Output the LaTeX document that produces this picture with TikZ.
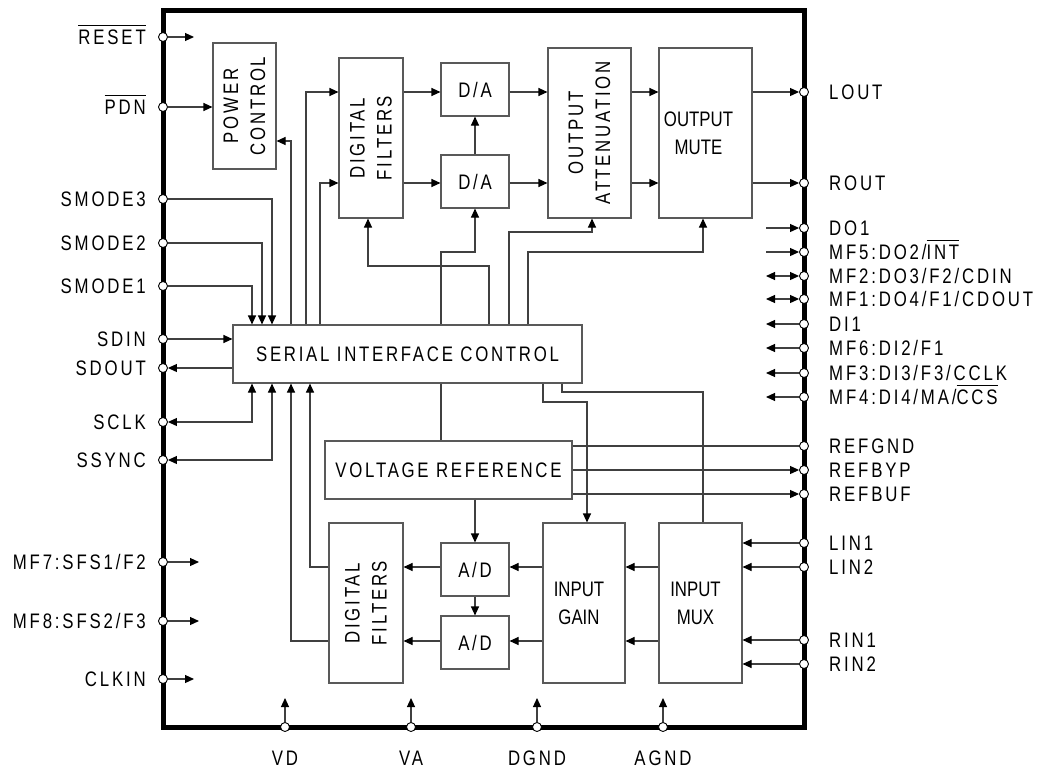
\documentclass[tikz,border=0pt]{standalone}
\usepackage{fontspec}
\usetikzlibrary{arrows.meta,calc}
\setmainfont{Liberation Sans}
\newfontfamily\pinf[FakeStretch=0.8,LetterSpace=13.5]{Liberation Sans}
\newfontfamily\blkf[FakeStretch=0.8,LetterSpace=13]{Liberation Sans}
\newfontfamily\narf[FakeStretch=0.8]{Liberation Sans}
\newcommand{\ovl}[1]{\leavevmode\vbox{\hrule height 0.9pt\kern 4pt\hbox{#1}}}
\colorlet{lncol}{black!75}
\colorlet{boxcol}{black!65}
\begin{document}
\begin{tikzpicture}[x=1pt,y=-1pt,
  ln/.style={draw=lncol,line width=1.1pt},
  arr/.style={ln,-{Triangle[length=9pt,width=8pt,black]}},
  dbl/.style={ln,{Triangle[length=9pt,width=8pt,black]}-{Triangle[length=9pt,width=8pt,black]}},
  blk/.style={draw=boxcol,line width=1.1pt,inner sep=0,minimum width=#1},
  pin/.style={circle,draw=black,fill=white,line width=0.9pt,minimum size=9pt,inner sep=0},
  lpin/.style={font=\pinf\fontsize{21}{24}\selectfont,inner sep=0,anchor=base east},
  rpin/.style={font=\pinf\fontsize{21}{24}\selectfont,inner sep=0,anchor=base west},
  bpin/.style={font=\pinf\fontsize{21}{24}\selectfont,inner sep=0,anchor=base},
  blab/.style={font=\blkf\fontsize{21}{27}\selectfont,inner sep=0,align=center},
  nlab/.style={font=\narf\fontsize{21}{28}\selectfont,inner sep=0,align=center}
]
\useasboundingbox (0,0) rectangle (1037,769);
% chip outline
\node[draw=black,line width=5pt,minimum width=641pt,minimum height=717pt,inner sep=0] (chip) at (483.5,368.5) {};

% blocks
\node[blk=63pt,minimum height=126pt] (pc) at (244.5,106) {};
\node[blk=64pt,minimum height=160pt] (df1) at (371,138) {};
\node[blk=68pt,minimum height=53pt] (da1) at (475,89.5) {};
\node[blk=68pt,minimum height=53pt] (da2) at (475,181.5) {};
\node[blk=83pt,minimum height=170pt] (oa) at (589.5,133) {};
\node[blk=93pt,minimum height=170pt] (om) at (705.5,133) {};
\node[blk=349pt,minimum height=58pt] (sic) at (407.5,354) {};
\node[blk=247pt,minimum height=58pt] (vr) at (448.5,470) {};
\node[blk=74pt,minimum height=160pt] (df2) at (366,603) {};
\node[blk=68pt,minimum height=53pt] (ad1) at (475,569.5) {};
\node[blk=68pt,minimum height=53pt] (ad2) at (475,642.5) {};
\node[blk=82pt,minimum height=160pt] (ig) at (584,603) {};
\node[blk=83pt,minimum height=160pt] (im) at (700.5,603) {};

% block texts
\node[blab,rotate=90] (tpc) at (pc.center) {POWER\\CONTROL};
\node[blab,rotate=90] (tdf1) at (df1.center) {DIGITAL\\FILTERS};
\node[blab] (tda1) at (da1.center) {D/A};
\node[blab] (tda2) at (da2.center) {D/A};
\node[blab,rotate=90] (toa) at (oa.center) {OUTPUT\\ATTENUATION};
\node[nlab] (tom) at ([xshift=-7pt]om.center) {OUTPUT\\MUTE};
\node[blab] (tsic) at (sic.center) {SERIAL INTERFACE CONTROL};
\node[blab] (tvr) at (vr.center) {VOLTAGE REFERENCE};
\node[blab,rotate=90] (tdf2) at (df2.center) {DIGITAL\\FILTERS};
\node[blab] (tad1) at (ad1.center) {A/D};
\node[blab] (tad2) at (ad2.center) {A/D};
\node[nlab] (tig) at ([xshift=-5pt]ig.center) {INPUT\\GAIN};
\node[nlab] (tim) at ([xshift=-5pt]im.center) {INPUT\\MUX};

% left pins
\foreach \n/\y/\t in {RESET/37/{\ovl{RESET}},PDN/107/{\ovl{PDN}},SMa/199/{SMODE3},SMb/243/{SMODE2},SMc/286/{SMODE1},SDIN/339/{SDIN},SDOUT/368/{SDOUT},SCLK/422/{SCLK},SSYNC/460/{SSYNC},MFs/562/{MF7:SFS1/F2},MFt/621/{MF8:SFS2/F3},CLKIN/679/{CLKIN}}{
  \node[pin] (p\n) at (163,\y) {};
  \node[lpin] (l\n) at (146,\y+7.5) {\t};
}
% right pins
\foreach \n/\y/\t in {LOUT/92/{LOUT},ROUT/183/{ROUT},DOa/228/{DO1},MFe/252/{MF5:DO2/\ovl{INT}},MFb/276/{MF2:DO3/F2/CDIN},MFa/299/{MF1:DO4/F1/CDOUT},DIa/324/{DI1},MFf/348/{MF6:DI2/F1},MFc/373/{MF3:DI3/F3/CCLK},MFd/397/{MF4:DI4/MA/\ovl{CCS}},REFGND/446/{REFGND},REFBYP/470/{REFBYP},REFBUF/494/{REFBUF},LINa/543/{LIN1},LINb/567/{LIN2},RINa/640/{RIN1},RINb/664/{RIN2}}{
  \node[pin] (p\n) at (804,\y) {};
  \node[rpin] (l\n) at (829,\y+7.5) {\t};
}
% bottom pins
\foreach \n/\x/\t in {VD/285/{VD},VA/411/{VA},DGND/537/{DGND},AGND/663/{AGND}}{
  \node[pin] (p\n) at (\x,727) {};
  \node[bpin] (l\n) at (\x,765) {\t};
  \coordinate (e\n) at (\x,698);
  \draw[arr] (p\n) -- (e\n);
}

% guide coordinates
\foreach \v in {252,262,272,291,306,310,320,368,441,475,489,509,528,543,562,587,592,703}{\coordinate (x\v) at (\v,0);}
\coordinate (r1) at (0,92);
\coordinate (r2) at (0,183);
\coordinate (r3) at (0,567);
\coordinate (r4) at (0,641);
\coordinate (y141) at (0,141);
\coordinate (y232) at (0,232);
\coordinate (y252) at (0,252);
\coordinate (y266) at (0,266);
\coordinate (y392) at (0,392);
\coordinate (y402) at (0,402);

% free ends
\coordinate (eRESET) at (194,37);
\coordinate (eMFs) at (199,562);
\coordinate (eMFt) at (199,621);
\coordinate (eCLKIN) at (194,679);
\foreach \n/\y in {DOa/228,MFe/252,MFb/276,MFa/299,DIa/324,MFf/348,MFc/373,MFd/397}{\coordinate (e\n) at (766,\y);}

% left pin connectors
\draw[arr] (pRESET) -- (eRESET);
\draw[arr] (pPDN) -- (pPDN -| pc.west);
\draw[arr] (pSMa) -| (sic.north -| x272);
\draw[arr] (pSMb) -| (sic.north -| x262);
\draw[arr] (pSMc) -| (sic.north -| x252);
\draw[arr] (pSDIN) -- (pSDIN -| sic.west);
\draw[arr] (pSDOUT -| sic.west) -- (pSDOUT);
\draw[dbl] (pSCLK) -| (sic.south -| x252);
\draw[dbl] (pSSYNC) -| (sic.south -| x272);
\draw[arr] (pMFs) -- (eMFs);
\draw[arr] (pMFt) -- (eMFt);
\draw[arr] (pCLKIN) -- (eCLKIN);

% right pin connectors
\draw[arr] (eDOa) -- (pDOa);
\draw[arr] (eMFe) -- (pMFe);
\draw[dbl] (eMFb) -- (pMFb);
\draw[dbl] (eMFa) -- (pMFa);
\foreach \n in {DIa,MFf,MFc,MFd}{\draw[arr] (p\n) -- (e\n);}
\draw[ln] (vr.east |- pREFGND) -- (pREFGND);
\draw[arr] (vr.east |- pREFBYP) -- (pREFBYP);
\draw[arr] (vr.east |- pREFBUF) -- (pREFBUF);
\foreach \n in {LINa,LINb,RINa,RINb}{\draw[arr] (p\n) -- (p\n -| im.east);}

% top signal path
\draw[arr] (sic.north -| x291) |- (pc.east |- y141);
\draw[arr] (sic.north -| x306) |- (df1.west |- r1);
\draw[arr] (sic.north -| x320) |- (df1.west |- r2);
\draw[arr] (df1.east |- r1) -- (da1.west |- r1);
\draw[arr] (df1.east |- r2) -- (da2.west |- r2);
\draw[arr] (da2.north) -- (da1.south);
\draw[arr] (da1.east |- r1) -- (oa.west |- r1);
\draw[arr] (da2.east |- r2) -- (oa.west |- r2);
\draw[arr] (oa.east |- r1) -- (om.west |- r1);
\draw[arr] (oa.east |- r2) -- (om.west |- r2);
\draw[arr] (om.east |- r1) -- (pLOUT);
\draw[arr] (om.east |- r2) -- (pROUT);
\draw[arr] (sic.north -| x441) |- (x475 |- y252) -- (da2.south);
\draw[arr] (sic.north -| x489) |- (x368 |- y266) -- (df1.south -| x368);
\draw[arr] (sic.north -| x509) |- (x592 |- y232) -- (oa.south -| x592);
\draw[arr] (sic.north -| x528) |- (x703 |- y252) -- (om.south -| x703);

% bottom path
\draw[ln] (sic.south -| x441) -- (vr.north -| x441);
\draw[arr] (sic.south -| x543) |- (x587 |- y402) -- (ig.north -| x587);
\draw[ln] (sic.south -| x562) |- (x703 |- y392) -- (im.north -| x703);
\draw[arr] (df2.west |- r3) -| (sic.south -| x310);
\draw[arr] (df2.west |- r4) -| (sic.south -| x291);
\draw[arr] (vr.south -| x475) -- (ad1.north);
\draw[arr] (ad1.south) -- (ad2.north);
\draw[arr] (ad1.west |- r3) -- (df2.east |- r3);
\draw[arr] (ad2.west |- r4) -- (df2.east |- r4);
\draw[arr] (ig.west |- r3) -- (ad1.east |- r3);
\draw[arr] (ig.west |- r4) -- (ad2.east |- r4);
\draw[arr] (im.west |- r3) -- (ig.east |- r3);
\draw[arr] (im.west |- r4) -- (ig.east |- r4);
\end{tikzpicture}
\end{document}
